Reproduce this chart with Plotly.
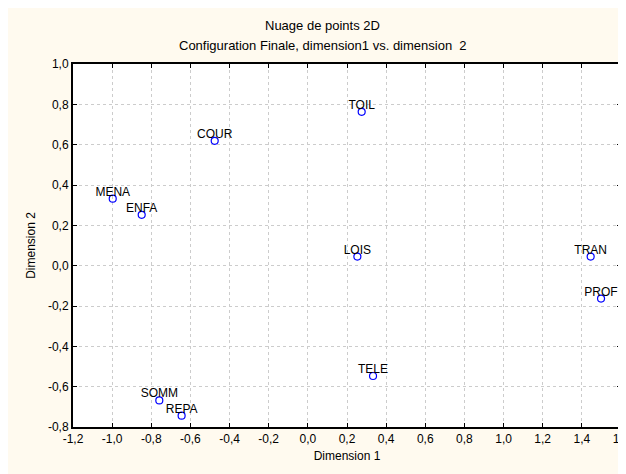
import plotly.graph_objects as go

# coordonnées finales (dimension 1, dimension 2)
labels = ["MENA", "ENFA", "COUR", "SOMM", "REPA", "TOIL", "LOIS", "TRAN", "PROF", "TELE"]
dim1 = [-0.997, -0.849, -0.476, -0.759, -0.645, 0.275, 0.253, 1.445, 1.498, 0.333]
dim2 = [0.332, 0.252, 0.619, -0.668, -0.744, 0.763, 0.045, 0.045, -0.163, -0.547]

x_ticks = [-1.2, -1.0, -0.8, -0.6, -0.4, -0.2, 0.0, 0.2, 0.4, 0.6, 0.8, 1.0, 1.2, 1.4, 1.6]
x_ticktext = ["-1,2", "-1,0", "-0,8", "-0,6", "-0,4", "-0,2", "0,0", "0,2", "0,4",
              "0,6", "0,8", "1,0", "1,2", "1,4", "1,6"]
y_ticks = [-0.8, -0.6, -0.4, -0.2, 0.0, 0.2, 0.4, 0.6, 0.8, 1.0]
y_ticktext = ["-0,8", "-0,6", "-0,4", "-0,2", "0,0", "0,2", "0,4", "0,6", "0,8", "1,0"]

FONT = "Liberation Sans, Arial, sans-serif"
CREAM = "#fffaef"

fig = go.Figure()
fig.add_trace(go.Scatter(
    x=dim1, y=dim2, mode="markers",
    marker=dict(symbol="circle-open", size=7, color="#0000ff", line=dict(width=1.2, color="#0000ff")),
    showlegend=False, cliponaxis=False,
))
# étiquettes un peu plus proches des points
fig.add_trace(go.Scatter(
    x=dim1, y=dim2, mode="text", text=labels,
    textposition="top center",
    textfont=dict(family=FONT, size=12, color="black"),
    marker=dict(size=4),
    showlegend=False, cliponaxis=False, hoverinfo="skip",
))

axis_common = dict(
    showline=True, linecolor="black", linewidth=2, mirror="ticks",
    ticks="inside", ticklen=4, tickwidth=1, tickcolor="black",
    showgrid=True, gridcolor="#cccccc", griddash="dot", gridwidth=1,
    zeroline=False, automargin=False,
    tickfont=dict(family=FONT, size=12, color="black"),
)

fig.update_xaxes(range=[-1.2, 1.6], tickvals=x_ticks, ticktext=x_ticktext,
                 title=dict(text="Dimension 1", font=dict(family=FONT, size=12, color="black"), standoff=6),
                 **axis_common)
fig.update_yaxes(range=[-0.8, 1.0], tickvals=y_ticks, ticktext=y_ticktext,
                 title=dict(text="Dimension 2", font=dict(family=FONT, size=12, color="black"), standoff=10),
                 **axis_common)

fig.add_annotation(text="Nuage de points 2D", xref="paper", yref="paper", x=0.456, y=1.105,
                   yanchor="middle", showarrow=False, font=dict(family=FONT, size=13, color="black"))
fig.add_annotation(text="Configuration Finale, dimension1 vs. dimension  2", xref="paper", yref="paper",
                   x=0.456, y=1.05, yanchor="middle", showarrow=False,
                   font=dict(family=FONT, size=13, color="black"))

fig.update_layout(
    width=626, height=474,
    margin=dict(l=65, r=13, t=56, b=55),
    paper_bgcolor=CREAM, plot_bgcolor="white",
    font=dict(family=FONT, size=12, color="black"),
)

fig.write_html("out.html")
